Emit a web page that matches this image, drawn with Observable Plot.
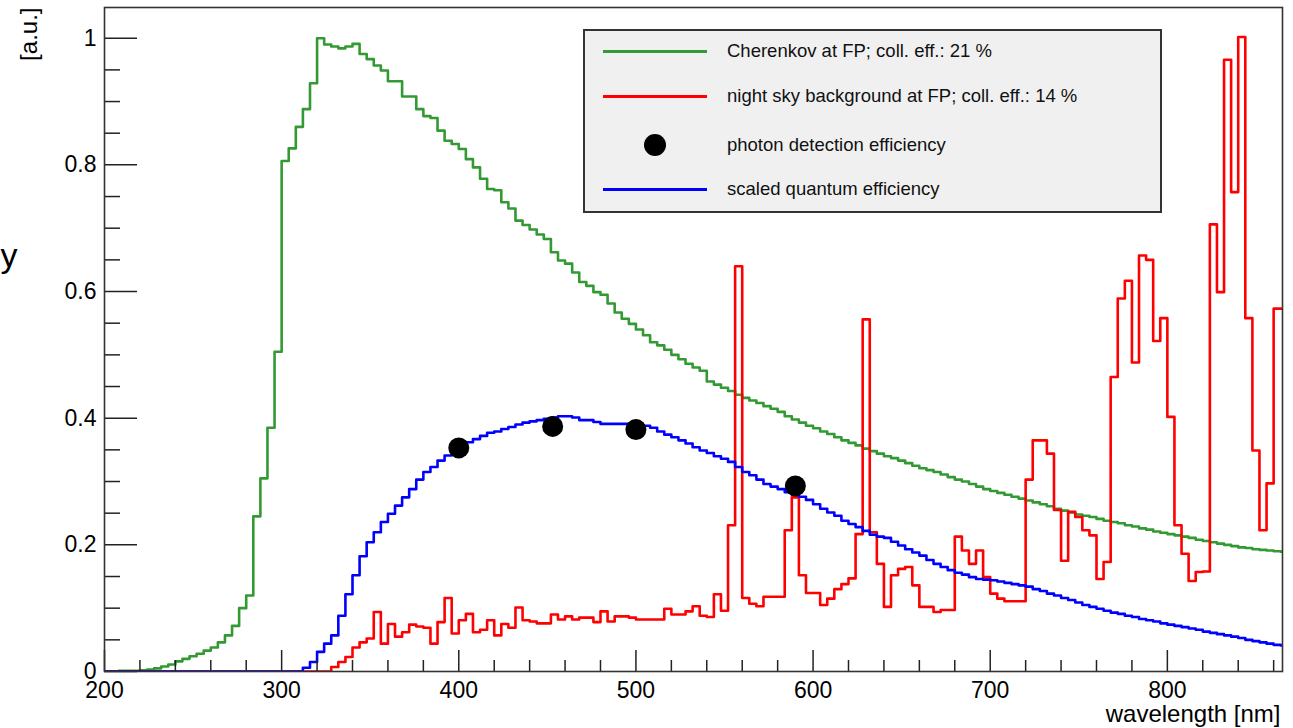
<!DOCTYPE html>
<html><head><meta charset="utf-8">
<script src="https://cdn.jsdelivr.net/npm/d3@7"></script>
<script src="https://cdn.jsdelivr.net/npm/@observablehq/plot@0.6"></script>
<style>
html,body{margin:0;padding:0;background:#fff;}
#chart{position:relative;width:1293px;height:728px;overflow:hidden;font-family:"Liberation Sans",Arial,sans-serif;}
#legend{position:absolute;left:583px;top:29px;width:579px;height:184px;box-sizing:border-box;background:#f0f0f0;border:2px solid #333;font-size:18.5px;color:#111;}
#legend .sw{position:absolute;left:18px;width:104px;height:3px;}
#legend .dot{position:absolute;width:22px;height:22px;border-radius:50%;background:#000;left:59px;}
#legend .lb{position:absolute;left:142px;line-height:20px;white-space:nowrap;}
</style></head><body><div id="chart"><div id="legend"></div></div>
<script>
// histogram bins: 4 nm wide, first bin starts at 200 nm
const binStart = 200, binWidth = 4;

// Cherenkov at focal plane (green)
const cherenkov = [
  0, 0, 0.001, 0.001, 0.001, 0.002, 0.003, 0.005, 0.008, 0.011, 0.016, 0.020, 0.024, 0.028, 0.033, 0.038, 0.046, 0.057, 0.072, 0.100, 0.120, 0.245, 0.305, 0.385, 0.505,
  0.806, 0.826, 0.860, 0.888, 0.929, 1.000, 0.990, 0.987, 0.984, 0.987, 0.991, 0.975, 0.967, 0.957, 0.949, 0.932, 0.932, 0.908, 0.908, 0.888, 0.877, 0.874, 0.854, 0.838, 0.833,
  0.825, 0.809, 0.796, 0.778, 0.762, 0.760, 0.741, 0.731, 0.712, 0.705, 0.698, 0.690, 0.683, 0.662, 0.649, 0.644, 0.630, 0.615, 0.609, 0.599, 0.595, 0.581, 0.567, 0.557, 0.549,
  0.540, 0.531, 0.520, 0.515, 0.508, 0.500, 0.493, 0.486, 0.480, 0.475, 0.458, 0.453, 0.448, 0.443, 0.437, 0.432, 0.428, 0.424, 0.419, 0.415, 0.410, 0.403, 0.398, 0.393, 0.388,
  0.384, 0.379, 0.375, 0.370, 0.365, 0.361, 0.357, 0.352, 0.348, 0.344, 0.340, 0.337, 0.333, 0.329, 0.325, 0.321, 0.318, 0.315, 0.311, 0.307, 0.303, 0.300, 0.296, 0.292, 0.288,
  0.285, 0.282, 0.279, 0.276, 0.273, 0.270, 0.267, 0.264, 0.261, 0.257, 0.254, 0.251, 0.248, 0.246, 0.244, 0.241, 0.238, 0.236, 0.234, 0.231, 0.229, 0.226, 0.224, 0.221, 0.219,
  0.217, 0.215, 0.213, 0.211, 0.208, 0.206, 0.204, 0.202, 0.200, 0.198, 0.196, 0.195, 0.193, 0.192, 0.191, 0.190, 0.189
];

// night sky background at focal plane (red)
const nightSky = [
  0, 0, 0, 0, 0, 0, 0, 0, 0, 0, 0, 0, 0, 0, 0, 0, 0, 0, 0, 0, 0, 0, 0, 0, 0,
  0, 0, 0, 0, 0, 0, 0, 0.007, 0.015, 0.023, 0.038, 0.046, 0.052, 0.094, 0.044, 0.075, 0.055, 0.062, 0.074, 0.071, 0.069, 0.044, 0.078, 0.116, 0.060,
  0.081, 0.091, 0.062, 0.066, 0.081, 0.057, 0.075, 0.069, 0.101, 0.081, 0.079, 0.076, 0.076, 0.090, 0.082, 0.087, 0.082, 0.085, 0.085, 0.078, 0.095, 0.079, 0.087, 0.087, 0.085,
  0.082, 0.082, 0.082, 0.082, 0.099, 0.090, 0.090, 0.095, 0.103, 0.088, 0.086, 0.122, 0.096, 0.231, 0.640, 0.116, 0.107, 0.103, 0.118, 0.118, 0.118, 0.223, 0.275, 0.152, 0.124,
  0.124, 0.105, 0.115, 0.130, 0.138, 0.147, 0.217, 0.556, 0.220, 0.170, 0.102, 0.152, 0.162, 0.165, 0.136, 0.102, 0.102, 0.094, 0.097, 0.097, 0.213, 0.191, 0.170, 0.191, 0.149,
  0.123, 0.115, 0.111, 0.111, 0.111, 0.303, 0.365, 0.365, 0.344, 0.255, 0.175, 0.252, 0.244, 0.223, 0.215, 0.146, 0.173, 0.465, 0.589, 0.617, 0.488, 0.657, 0.650, 0.522, 0.558,
  0.402, 0.231, 0.186, 0.143, 0.157, 0.158, 0.706, 0.599, 0.966, 0.757, 1.002, 0.558, 0.349, 0.223, 0.297, 0.573, 0.573
];

// scaled quantum efficiency (blue)
const quantumEff = [
  0, 0, 0, 0, 0, 0, 0, 0, 0, 0, 0, 0, 0, 0, 0, 0, 0, 0, 0, 0, 0, 0, 0, 0, 0,
  0, 0, 0, 0.006, 0.015, 0.031, 0.044, 0.057, 0.088, 0.122, 0.152, 0.182, 0.204, 0.220, 0.236, 0.249, 0.262, 0.275, 0.288, 0.303, 0.315, 0.323, 0.333, 0.341, 0.349,
  0.357, 0.362, 0.367, 0.372, 0.377, 0.379, 0.383, 0.386, 0.390, 0.393, 0.395, 0.397, 0.399, 0.401, 0.403, 0.403, 0.401, 0.397, 0.397, 0.394, 0.391, 0.391, 0.391, 0.391, 0.391,
  0.388, 0.388, 0.385, 0.379, 0.374, 0.370, 0.365, 0.360, 0.354, 0.349, 0.345, 0.340, 0.336, 0.331, 0.323, 0.315, 0.310, 0.303, 0.296, 0.292, 0.288, 0.283, 0.279, 0.276, 0.271,
  0.264, 0.257, 0.251, 0.246, 0.238, 0.233, 0.228, 0.222, 0.216, 0.213, 0.211, 0.205, 0.199, 0.193, 0.188, 0.183, 0.176, 0.170, 0.165, 0.160, 0.156, 0.153, 0.149, 0.146, 0.145,
  0.144, 0.142, 0.140, 0.138, 0.136, 0.134, 0.130, 0.127, 0.123, 0.120, 0.116, 0.113, 0.109, 0.105, 0.102, 0.099, 0.096, 0.093, 0.091, 0.088, 0.086, 0.083, 0.081, 0.079, 0.076,
  0.074, 0.072, 0.070, 0.068, 0.066, 0.063, 0.061, 0.059, 0.057, 0.055, 0.053, 0.050, 0.048, 0.046, 0.044, 0.042, 0.041
];

// photon detection efficiency points
const pdeWavelength = [400, 453, 500, 590];
const pdeValue = [0.353, 0.387, 0.382, 0.293];

// ticks
const xMajorTicks = [200, 300, 400, 500, 600, 700, 800];
const xMinorTicks = [220, 240, 260, 280, 320, 340, 360, 380, 420, 440, 460, 480, 520, 540, 560, 580, 620, 640, 660, 680, 720, 740, 760, 780, 820, 840, 860];
const yMajorTicks = [0, 0.2, 0.4, 0.6, 0.8, 1];
const yMinorTicks = [0.05, 0.1, 0.15, 0.25, 0.3, 0.35, 0.45, 0.5, 0.55, 0.65, 0.7, 0.75, 0.85, 0.9, 0.95];

const legendLabels = [
  "Cherenkov at FP; coll. eff.: 21 %",
  "night sky background at FP; coll. eff.: 14 %",
  "photon detection efficiency",
  "scaled quantum efficiency"
];
const colors = {green: "#339933", red: "#ff0000", blue: "#0000ff"};

function steps(values) {
  const rows = values.map((v, i) => ({x: binStart + i * binWidth, y: v}));
  const last = rows[rows.length - 1];
  rows.push({x: last.x + binWidth, y: last.y});
  return rows;
}
const pde = pdeWavelength.map((w, i) => ({x: w, y: pdeValue[i]}));

const W = 1293, H = 728, mL = 104, mR = 11, mT = 7, mB = 57;
const innerW = W - mL - mR, innerH = H - mT - mB;

const chart = Plot.plot({
  width: W, height: H,
  marginLeft: mL, marginRight: mR, marginTop: mT, marginBottom: mB,
  style: {fontFamily: "'Liberation Sans', Arial, sans-serif", background: "white", color: "#000"},
  x: {domain: [200, 865]},
  y: {domain: [0, 1.0485]},
  marks: [
    Plot.line(steps(cherenkov), {x: "x", y: "y", curve: "step-after", stroke: colors.green, strokeWidth: 2.6, clip: true}),
    Plot.line(steps(nightSky), {x: "x", y: "y", curve: "step-after", stroke: colors.red, strokeWidth: 2.6, clip: true}),
    Plot.line(steps(quantumEff), {x: "x", y: "y", curve: "step-after", stroke: colors.blue, strokeWidth: 2.6, clip: true}),
    Plot.dot(pde, {x: "x", y: "y", r: 10.5, fill: "#000"}),
    Plot.tickX(xMajorTicks, {x: d => d, stroke: "#222", strokeWidth: 1.5, insetTop: innerH - 21}),
    Plot.tickX(xMinorTicks, {x: d => d, stroke: "#222", strokeWidth: 1.5, insetTop: innerH - 11}),
    Plot.tickY(yMajorTicks, {y: d => d, stroke: "#222", strokeWidth: 1.5, insetRight: innerW - 33}),
    Plot.tickY(yMinorTicks, {y: d => d, stroke: "#222", strokeWidth: 1.5, insetRight: innerW - 16}),
    Plot.axisX({ticks: xMajorTicks, tickSize: 0, tickPadding: 10, fontSize: 23, label: null, tickFormat: d => String(d)}),
    Plot.axisY({ticks: yMajorTicks, tickSize: 0, tickPadding: 8, fontSize: 23, label: null, tickFormat: d => String(d)}),
    Plot.frame({stroke: "#333", strokeWidth: 1.6}),
    Plot.text(["wavelength [nm]"], {frameAnchor: "bottom-right", dx: -2, dy: 50, textAnchor: "end", lineAnchor: "bottom", fontSize: 24}),
    Plot.text(["[a.u.]"], {frameAnchor: "top-left", dx: -75, dy: 0, rotate: -90, textAnchor: "end", lineAnchor: "middle", fontSize: 24}),
    Plot.text(["y"], {frameAnchor: "top-left", dx: -104, dy: 259, textAnchor: "start", lineAnchor: "bottom", fontSize: 34})
  ]
});
document.getElementById("chart").prepend(chart);

// legend (ROOT-style box)
const legend = document.getElementById("legend");
const rowY = [20, 65, 114, 158];
const kinds = [["line", colors.green], ["line", colors.red], ["dot", "#000"], ["line", colors.blue]];
legendLabels.forEach((label, i) => {
  const [kind, c] = kinds[i];
  const sym = document.createElement("div");
  if (kind === "line") { sym.className = "sw"; sym.style.top = (rowY[i] - 1.5) + "px"; sym.style.background = c; }
  else { sym.className = "dot"; sym.style.top = (rowY[i] - 11) + "px"; }
  legend.appendChild(sym);
  const lb = document.createElement("div");
  lb.className = "lb"; lb.style.top = (rowY[i] - 10) + "px"; lb.textContent = label;
  legend.appendChild(lb);
});
</script></body></html>
